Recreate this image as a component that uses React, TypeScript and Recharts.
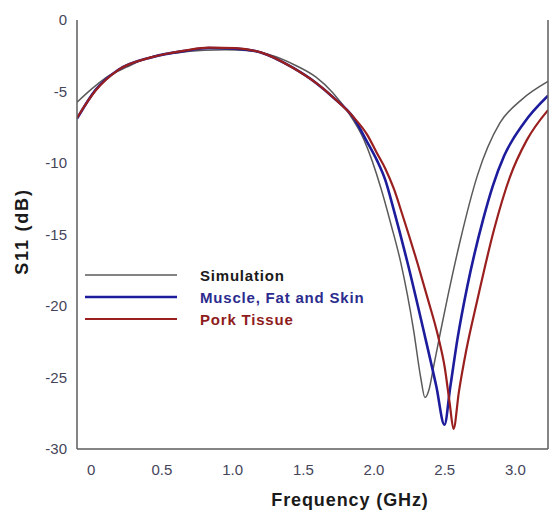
import { Legend, Line, LineChart, XAxis, YAxis, Label } from "recharts";

// frequency (GHz) / S11 (dB)
const simFreq = [-0.1, 0.0, 0.1, 0.25, 0.4, 0.6, 0.8, 0.95, 1.1, 1.25, 1.45, 1.59, 1.71, 1.82, 1.93, 2.05, 2.12, 2.19, 2.28, 2.33, 2.36, 2.39, 2.42, 2.47, 2.52, 2.61, 2.73, 2.89, 3.04, 3.23];
const simS11 = [-5.75, -4.85, -4.06, -3.3, -2.65, -2.3, -2.12, -2.08, -2.13, -2.4, -3.2, -4.0, -5.1, -6.5, -8.4, -11.8, -14.3, -17.0, -21.7, -25.0, -26.4, -25.8, -24.3, -21.8, -19.4, -15.4, -10.9, -7.2, -5.6, -4.3];

const muscleFreq = [-0.1, 0.03, 0.19, 0.43, 0.67, 0.83, 1.02, 1.21, 1.42, 1.59, 1.71, 1.86, 1.95, 2.02, 2.08, 2.14, 2.24, 2.35, 2.44, 2.498, 2.54, 2.59, 2.66, 2.77, 2.84, 2.92, 3.06, 3.23];
const muscleS11 = [-6.9, -4.9, -3.5, -2.6, -2.15, -1.96, -2.0, -2.3, -3.3, -4.4, -5.4, -6.9, -8.5, -9.8, -11.2, -13.3, -17.1, -21.7, -25.6, -28.3, -25.6, -22.3, -18.6, -14.0, -11.6, -9.5, -7.2, -5.3];

const porkFreq = [-0.1, 0.03, 0.19, 0.43, 0.67, 0.83, 1.02, 1.21, 1.42, 1.59, 1.71, 1.86, 1.95, 2.02, 2.08, 2.14, 2.2, 2.31, 2.38, 2.45, 2.5, 2.535, 2.562, 2.6, 2.65, 2.73, 2.85, 2.96, 3.08, 3.23];
const porkS11 = [-6.85, -4.95, -3.5, -2.6, -2.12, -1.93, -1.97, -2.3, -3.3, -4.4, -5.4, -6.85, -8.0, -9.3, -10.4, -11.8, -13.6, -17.1, -19.5, -22.0, -24.3, -26.8, -28.6, -26.0, -23.2, -19.6, -14.6, -11.0, -8.4, -6.3];

const xTicks = [0, 0.5, 1.0, 1.5, 2.0, 2.5, 3.0];
const yTicks = [0, -5, -10, -15, -20, -25, -30];

const seriesNames = ["Simulation", "Muscle, Fat and Skin", "Pork Tissue"];
const lineColors = ["#5a5a5a", "#1c1c9c", "#9a1f1f"];
const textColors = ["#1a1a1a", "#2c2c8e", "#8e1c1c"];
const lineWidths = [1.5, 2.6, 2.2];

const toRows = (fs: number[], vs: number[]) => fs.map((f, i) => ({ f, s11: vs[i] }));
const series = [toRows(simFreq, simS11), toRows(muscleFreq, muscleS11), toRows(porkFreq, porkS11)];

const font = '"Liberation Sans", Arial, sans-serif';
const axisColor = "#5c5c5c";
const tickStyle = { fill: "#45455a", fontSize: 15, fontFamily: font };

function LegendBox({ payload }: any) {
  // keep the original series order, not the sorted one
  const items = [...(payload || [])].sort(
    (a: any, b: any) => seriesNames.indexOf(a.value) - seriesNames.indexOf(b.value)
  );
  return (
    <div style={{ fontFamily: font }}>
      {items.map((p: any) => {
        const i = seriesNames.indexOf(p.value);
        return (
          <div key={p.value} style={{ display: "flex", alignItems: "center", height: 22 }}>
            <svg width={92} height={6}>
              <line x1={0} x2={92} y1={3} y2={3} stroke={lineColors[i]} strokeWidth={lineWidths[i]} />
            </svg>
            <span style={{ marginLeft: 23, fontSize: 15, fontWeight: 700, letterSpacing: 0.8, color: textColors[i] }}>
              {p.value}
            </span>
          </div>
        );
      })}
    </div>
  );
}

export default function App() {
  return (
    <div style={{ position: "absolute", left: 0, top: 0, background: "#fff" }}>
      <LineChart width={550} height={511} margin={{ top: 20, right: 0, bottom: 0, left: 0 }}>
        <XAxis
          dataKey="f"
          type="number"
          domain={[-0.1, 3.23]}
          ticks={xTicks}
          allowDataOverflow
          tickFormatter={(v: number) => (v === 0 ? "0" : v.toFixed(1))}
          stroke={axisColor}
          strokeWidth={1.5}
          tickLine={false}
          tickSize={6}
          tickMargin={9}
          height={62}
          tick={tickStyle}
        >
          <Label
            content={({ viewBox }: any) => (
              <text
                x={viewBox.x + 273}
                y={viewBox.y + 51}
                textAnchor="middle"
                dominantBaseline="central"
                fontFamily={font}
                fontSize={18}
                fontWeight={700}
                letterSpacing={0.9}
                fill="#1a1a1a"
              >
                Frequency (GHz)
              </text>
            )}
          />
        </XAxis>
        <XAxis xAxisId="top" type="number" orientation="top" domain={[-0.1, 3.23]} height={0} tick={false} tickLine={false} stroke={axisColor} strokeWidth={1.5} />
        <YAxis
          type="number"
          domain={[-30, 0]}
          ticks={yTicks}
          allowDataOverflow
          stroke={axisColor}
          strokeWidth={1.5}
          tickLine={false}
          tickSize={6}
          tickMargin={4}
          width={77}
          tick={tickStyle}
        >
          <Label
            content={({ viewBox }: any) => (
              <text
                transform={`translate(${viewBox.x + 22}, ${viewBox.y + viewBox.height / 2 - 3}) rotate(-90)`}
                textAnchor="middle"
                dominantBaseline="central"
                fontFamily={font}
                fontSize={18}
                fontWeight={700}
                letterSpacing={1.8}
                fill="#1a1a1a"
              >
                S11 (dB)
              </text>
            )}
          />
        </YAxis>
        <YAxis yAxisId="right" orientation="right" type="number" domain={[-30, 0]} width={2} tick={false} tickLine={false} stroke={axisColor} strokeWidth={1.5} />
        <Legend
          layout="vertical"
          align="center"
          verticalAlign="middle"
          content={<LegendBox />}
          wrapperStyle={{ left: 85, top: 264, width: 300 }}
        />
        {series.map((rows, i) => (
          <Line
            key={seriesNames[i]}
            data={rows}
            dataKey="s11"
            name={seriesNames[i]}
            type="monotone"
            stroke={lineColors[i]}
            strokeWidth={lineWidths[i]}
            dot={false}
            activeDot={false}
            isAnimationActive={false}
          />
        ))}
      </LineChart>
    </div>
  );
}
